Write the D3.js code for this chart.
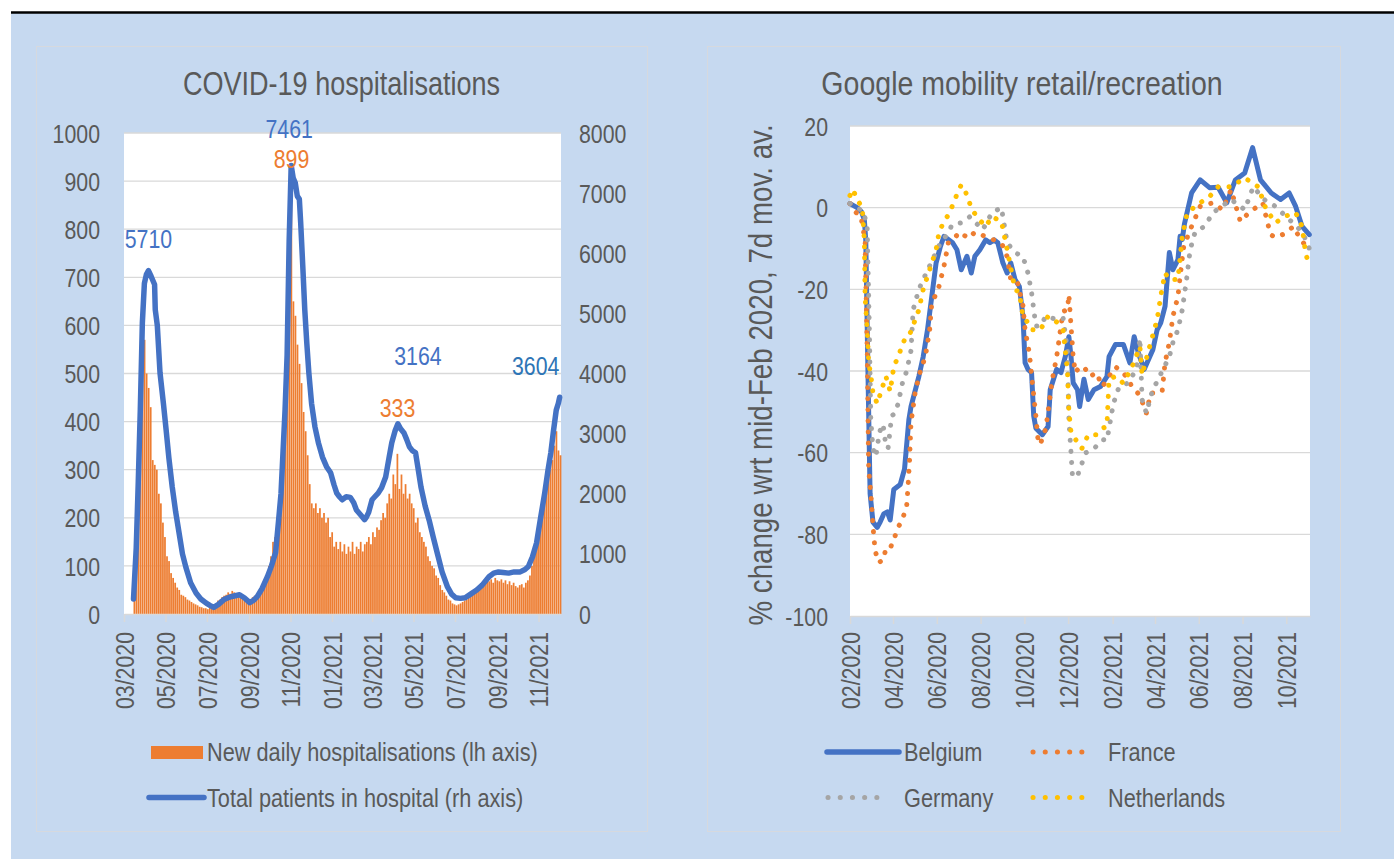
<!DOCTYPE html>
<html><head><meta charset="utf-8">
<script src="https://cdn.jsdelivr.net/npm/d3@7"></script>
<style>
html,body{margin:0;padding:0;background:#fff;}
svg{display:block;}
text{font-family:"Liberation Sans",Arial,sans-serif;fill:#595959;}
</style></head><body>
<svg id="chart" width="1394" height="859"></svg>
<script>
// ---------------- DATA ----------------
// Left chart: COVID-19 hospitalisations (Belgium)
const leftTitle = "COVID-19 hospitalisations";
const barStartDate = "2020-03-15";
const barStepDays = 3;
const newDaily = [
  90,220,330,430,520,570,500,470,430,320,
  310,300,250,230,190,160,120,110,85,75,
  65,55,50,40,38,35,30,28,25,22,
  20,18,15,14,12,12,10,13,15,20,
  22,28,30,35,38,40,45,42,48,45,
  40,42,38,32,28,25,25,30,35,38,
  40,45,50,58,65,80,100,120,150,160,
  200,230,260,350,480,620,760,899,650,620,
  560,520,480,420,380,330,270,230,220,230,
  210,220,200,210,190,200,160,170,140,150,
  135,150,130,145,125,140,130,150,125,140,
  135,150,130,145,150,160,145,170,160,180,
  175,195,210,200,230,250,240,290,270,333,
  260,290,250,270,240,250,230,220,190,200,
  170,160,150,140,120,110,100,95,80,75,
  60,50,45,38,30,28,22,20,18,20,
  22,25,28,30,35,38,42,45,50,55,
  58,62,65,70,68,72,65,75,70,68,
  72,65,70,62,68,60,65,58,55,60,
  62,55,65,70,80,100,120,140,170,190,
  210,240,260,290,300,320,350,380,340,330
];
const hospDates = [
  "2020-03-15","2020-03-19","2020-03-22","2020-03-25","2020-03-28","2020-03-31","2020-04-03","2020-04-06",
  "2020-04-09","2020-04-12","2020-04-15","2020-04-16","2020-04-19","2020-04-23","2020-04-28","2020-05-02",
  "2020-05-06","2020-05-11","2020-05-16","2020-05-22","2020-05-26","2020-05-31","2020-06-07","2020-06-15",
  "2020-06-22","2020-06-30","2020-07-06","2020-07-11","2020-07-18","2020-07-26","2020-08-03","2020-08-10",
  "2020-08-18","2020-08-25","2020-09-02","2020-09-08","2020-09-13","2020-09-20","2020-09-28","2020-10-04",
  "2020-10-10","2020-10-14","2020-10-18","2020-10-21","2020-10-24","2020-10-27","2020-10-30","2020-11-02",
  "2020-11-05","2020-11-08","2020-11-11","2020-11-14","2020-11-16","2020-11-19","2020-11-22","2020-11-25",
  "2020-11-28","2020-12-02","2020-12-07","2020-12-12","2020-12-18","2020-12-24","2020-12-30","2021-01-04",
  "2021-01-08","2021-01-12","2021-01-16","2021-01-22","2021-01-28","2021-02-02","2021-02-06","2021-02-12",
  "2021-02-18","2021-02-21","2021-02-24","2021-03-01","2021-03-05","2021-03-10","2021-03-15","2021-03-21",
  "2021-03-26","2021-03-30","2021-04-04","2021-04-08","2021-04-12","2021-04-17","2021-04-21","2021-04-25",
  "2021-04-29","2021-05-04","2021-05-08","2021-05-12","2021-05-18","2021-05-24","2021-05-30","2021-06-05",
  "2021-06-12","2021-06-20","2021-06-26","2021-07-02","2021-07-09","2021-07-16","2021-07-24","2021-08-02",
  "2021-08-10","2021-08-20","2021-08-27","2021-09-03","2021-09-10","2021-09-18","2021-09-26","2021-10-05",
  "2021-10-12","2021-10-17","2021-10-23","2021-10-29","2021-11-04","2021-11-10","2021-11-15","2021-11-19",
  "2021-11-23","2021-11-27","2021-11-30","2021-12-02"
];
const hospTotal = [
  250,1100,2200,3400,4840,5500,5650,5710,
  5640,5560,5480,5060,4800,4010,3500,3060,
  2600,2110,1700,1280,1000,780,520,350,
  250,180,140,110,160,240,280,300,
  320,270,190,230,290,420,620,800,
  1020,1500,2000,2700,3400,4300,6200,7461,
  7250,7170,6950,6900,6500,5800,5060,4500,
  4010,3500,3110,2850,2610,2450,2350,2150,
  2010,1950,1900,1950,1940,1850,1730,1650,
  1570,1620,1690,1900,1950,2010,2100,2280,
  2600,2850,3050,3164,3080,3010,2900,2780,
  2720,2680,2400,2110,1800,1560,1280,1010,
  700,450,330,270,260,270,330,400,
  480,620,680,700,690,680,700,700,
  740,790,950,1180,1600,2010,2400,2680,
  3050,3390,3500,3604
];
const leftYTicks = [0,100,200,300,400,500,600,700,800,900,1000];
const rightYTicks = [0,1000,2000,3000,4000,5000,6000,7000,8000];
const leftXTicks = ["2020-03-01","2020-05-01","2020-07-01","2020-09-01","2020-11-01","2021-01-01",
  "2021-03-01","2021-05-01","2021-07-01","2021-09-01","2021-11-01"];
const leftLegend = ["New daily hospitalisations (lh axis)","Total patients in hospital (rh axis)"];
// data labels
const lineLabelDates = ["2020-04-06","2020-11-02","2021-04-08","2021-12-02"];
const lineLabelValues = [5710,7461,3164,3604];
const barLabelDates = ["2020-11-01","2021-04-06"];
const barLabelValues = [899,333];

// Right chart: Google mobility retail/recreation
const rightTitle = "Google mobility retail/recreation";
const rightYTitle = "% change wrt mid-Feb 2020, 7d mov. av.";
const mobYTicks = [-100,-80,-60,-40,-20,0,20];
const mobXTicks = ["2020-02-15","2020-04-15","2020-06-15","2020-08-15","2020-10-15","2020-12-15",
  "2021-02-15","2021-04-15","2021-06-15","2021-08-15","2021-10-15"];
const countries = ["Belgium","France","Germany","Netherlands"];

const belgiumDates = ["2020-02-15","2020-02-25","2020-03-02","2020-03-06","2020-03-08","2020-03-11","2020-03-14","2020-03-18",
  "2020-03-24","2020-03-28","2020-04-02","2020-04-07","2020-04-11","2020-04-16","2020-04-25","2020-05-01","2020-05-07",
  "2020-05-10","2020-05-21","2020-05-27","2020-06-02","2020-06-08","2020-06-14","2020-06-20","2020-06-25","2020-07-07",
  "2020-07-13","2020-07-19","2020-07-27","2020-08-02","2020-08-07","2020-08-14","2020-08-22","2020-08-28","2020-09-03",
  "2020-09-08","2020-09-15","2020-09-21","2020-09-26","2020-10-02","2020-10-08","2020-10-13","2020-10-16","2020-10-20",
  "2020-10-25","2020-10-28","2020-10-31","2020-11-09","2020-11-17","2020-11-20","2020-11-29","2020-12-05","2020-12-11",
  "2020-12-16","2020-12-19","2020-12-22","2020-12-28","2020-12-31","2021-01-06","2021-01-12","2021-01-20","2021-01-29",
  "2021-02-07","2021-02-10","2021-02-19","2021-03-02","2021-03-08","2021-03-11","2021-03-17","2021-03-23","2021-03-31",
  "2021-04-06","2021-04-12","2021-04-18","2021-04-23","2021-04-29","2021-05-05","2021-05-10","2021-05-17","2021-05-20",
  "2021-05-23","2021-05-26","2021-06-05","2021-06-17","2021-06-30","2021-07-12","2021-07-24","2021-08-05","2021-08-18",
  "2021-08-29","2021-09-09","2021-09-24","2021-10-07","2021-10-19","2021-10-28","2021-11-06","2021-11-16"];
const belgiumValues = [1,0,-1,-3,-8,-40,-70,-77,
  -78.3,-77,-75,-74.5,-76.5,-69,-67.8,-64,-52,
  -48.7,-41.3,-36.5,-29.9,-21.7,-13.5,-9.5,-7,-8.6,
  -10.3,-15.2,-11.9,-16,-11.9,-10.3,-7.9,-8.6,-7.9,
  -8.6,-13.5,-16,-13.5,-17.6,-19.3,-26.6,-38,-39.6,
  -40.4,-51,-54,-55.6,-53.6,-44.6,-39.6,-40.4,-36.5,
  -31.6,-36.5,-42.9,-44.6,-48.7,-42,-47,-44.6,-43.8,
  -41.4,-36.5,-33.5,-33.5,-36.5,-38,-31.6,-35.7,-39.6,
  -37.2,-34.8,-29.9,-28.2,-24.2,-11,-15.2,-12.7,-7,
  -7.8,-4,3.6,6.8,4.9,5,1.2,6.8,8.5,
  14.7,6.8,3.6,2,3.6,0.3,-4.6,-6.6];

const franceDates = ["2020-02-15","2020-02-22","2020-03-01","2020-03-07","2020-03-10","2020-03-12","2020-03-15","2020-03-18",
  "2020-03-21","2020-03-26","2020-04-02","2020-04-05","2020-04-12","2020-04-16","2020-04-22","2020-04-28","2020-05-04",
  "2020-05-06","2020-05-08","2020-05-10","2020-05-16","2020-05-23","2020-05-30","2020-06-05","2020-06-08","2020-06-17",
  "2020-06-25","2020-07-01","2020-07-07","2020-07-17","2020-07-29","2020-08-07","2020-08-21","2020-09-04","2020-09-14",
  "2020-09-21","2020-09-26","2020-10-05","2020-10-13","2020-10-16","2020-10-22","2020-10-25","2020-10-28","2020-10-31",
  "2020-11-03","2020-11-06","2020-11-14","2020-11-23","2020-11-29","2020-12-05","2020-12-08","2020-12-14","2020-12-16",
  "2020-12-19","2020-12-22","2020-12-25","2020-12-31","2021-01-06","2021-01-15","2021-01-23","2021-02-01","2021-02-10",
  "2021-02-19","2021-03-02","2021-03-14","2021-03-25","2021-04-03","2021-04-09","2021-04-18","2021-04-25","2021-04-29",
  "2021-05-05","2021-05-10","2021-05-17","2021-05-20","2021-05-25","2021-06-05","2021-06-17","2021-07-05","2021-07-18",
  "2021-07-30","2021-08-12","2021-08-24","2021-09-12","2021-09-23","2021-09-30","2021-10-11","2021-10-25","2021-11-04",
  "2021-11-15"];
const franceValues = [1,-1,-2,-8,-35,-64,-70,-78,
  -84,-86.9,-86.2,-83.2,-83,-81.3,-78.3,-76.4,-73,
  -68,-61.7,-52.7,-45,-40,-36.5,-29.9,-23.3,-20,
  -14.3,-8.6,-7.9,-6,-7.5,-6,-7,-8,-9,
  -12,-17.6,-18,-24,-30,-35.7,-41,-46,-51,
  -57,-58,-54,-42,-36.5,-29,-25.4,-25,-21.3,
  -29,-36.5,-40.4,-39,-39,-41.3,-40.4,-43.8,-41.3,
  -39,-40.4,-43.8,-46,-50.3,-45.4,-45.4,-45,-38,
  -33,-26.6,-21.7,-16.9,-9.5,-4.6,0.3,1.2,-0.5,
  4.4,-3.4,-1.2,1.2,-6.6,-7.3,-6.5,-4.6,-7.9,
  -10];

const germanyDates = ["2020-02-15","2020-02-25","2020-03-05","2020-03-10","2020-03-13","2020-03-15","2020-03-18","2020-03-22",
  "2020-03-27","2020-04-01","2020-04-04","2020-04-08","2020-04-13","2020-04-18","2020-04-22","2020-04-28","2020-05-04",
  "2020-05-10","2020-05-13","2020-05-21","2020-05-27","2020-06-11","2020-06-20","2020-07-01","2020-07-06","2020-07-19",
  "2020-07-31","2020-08-18","2020-08-31","2020-09-13","2020-09-21","2020-10-02","2020-10-13","2020-10-20","2020-10-25",
  "2020-10-31","2020-11-06","2020-11-14","2020-11-29","2020-12-08","2020-12-14","2020-12-16","2020-12-19","2020-12-21",
  "2020-12-28","2020-12-31","2021-01-09","2021-01-20","2021-02-01","2021-02-07","2021-02-12","2021-02-16","2021-02-24",
  "2021-03-08","2021-03-20","2021-03-25","2021-03-28","2021-04-03","2021-04-11","2021-04-24","2021-05-05","2021-05-10",
  "2021-05-17","2021-05-23","2021-05-29","2021-06-03","2021-06-10","2021-06-23","2021-07-05","2021-07-30","2021-08-18",
  "2021-08-30","2021-09-14","2021-09-30","2021-10-19","2021-10-30","2021-11-09","2021-11-16"];
const germanyValues = [1,0,-1,-5,-30,-52,-59,-61,
  -55,-53,-57,-59,-51,-50.3,-48,-43,-40,
  -35,-25,-20,-17.6,-12,-8.6,-6.2,-4.2,-3.7,
  -2.2,-5.4,-1.2,0,-8.6,-11,-12,-16,-20.8,
  -29,-29,-26.6,-27.4,-27,-35,-52,-60,-65.8,
  -65.8,-64,-60,-59,-56.8,-57,-52,-48,-43.8,
  -43,-39.6,-32,-47,-50.3,-45,-40.4,-36.5,-33,
  -29.9,-25,-17.6,-10.3,-5.9,-4.6,-1.2,2,-0.5,
  5.1,2,0.3,-2.9,-4.6,-7,-10];

const netherlandsDates = ["2020-02-15","2020-02-19","2020-02-25","2020-03-03","2020-03-06","2020-03-07","2020-03-10","2020-03-12",
  "2020-03-15","2020-03-18","2020-03-24","2020-03-30","2020-04-05","2020-04-11","2020-04-16","2020-04-22","2020-05-01",
  "2020-05-07","2020-05-16","2020-05-21","2020-05-27","2020-06-05","2020-06-14","2020-06-18","2020-06-24","2020-07-03",
  "2020-07-10","2020-07-19","2020-07-25","2020-08-03","2020-08-13","2020-08-22","2020-08-31","2020-09-13","2020-09-21",
  "2020-10-02","2020-10-08","2020-10-13","2020-10-20","2020-10-25","2020-11-06","2020-11-17","2020-11-29","2020-12-08",
  "2020-12-14","2020-12-16","2020-12-19","2020-12-28","2021-01-03","2021-01-12","2021-01-23","2021-02-01","2021-02-07",
  "2021-02-10","2021-02-19","2021-03-02","2021-03-14","2021-03-25","2021-03-28","2021-04-06","2021-04-18","2021-04-23",
  "2021-04-29","2021-05-05","2021-05-17","2021-05-23","2021-05-30","2021-06-17","2021-06-30","2021-07-12","2021-07-30",
  "2021-08-18","2021-09-06","2021-09-17","2021-09-30","2021-10-12","2021-10-28","2021-11-06","2021-11-11","2021-11-15"];
const netherlandsValues = [3,4.5,2,0,-8,-21.7,-30,-38,
  -41,-45.4,-48,-44.6,-41.3,-45,-39,-36.5,-32.3,
  -31.6,-27.4,-25,-20,-15.2,-10.3,-6.1,-3.7,-1.2,
  2,5.6,3.9,-0.5,-2.9,-4.6,-2.2,-3.4,-10.3,
  -20,-20.8,-26.6,-28.2,-29.9,-30,-26.6,-28,-30,
  -40,-50,-55,-57.5,-59,-55.6,-55.6,-54,-53.6,
  -42,-41.3,-43,-39,-34,-41,-35,-27.4,-21.7,
  -16,-17.6,-17.6,-7,-1.2,1.2,2.7,5.1,5.1,
  7.3,5.1,-0.5,-3.7,-2.2,-1.2,-4.6,-11.3,-13.5];

// ---------------- DRAWING ----------------
const parse = d3.timeParse("%Y-%m-%d");
const fmt = d3.timeFormat("%m/%Y");
const numFmt = d => String(d);
const svg = d3.select("#chart");
const TXT = "#595959", GRID = "#d9d9d9";
const C_BLUE = "#4472C4", C_ORANGE = "#ED7D31", C_GRAY = "#A5A5A5", C_YELLOW = "#FFC000";
const SX = 0.82; // horizontal condensing of the text (narrow face)

// text helper: condensed text anchored at (x,y)
function addText(x, y, str, size, opts={}) {
  const rot = opts.rotate ? ` rotate(${opts.rotate})` : "";
  const sx = opts.sx || SX;
  const t = svg.append("text")
    .attr("transform", `translate(${x},${y})${rot} scale(${sx},1)`)
    .attr("text-anchor", opts.anchor || "start")
    .style("font-size", size + "px")
    .style("fill", opts.color || TXT)
    .text(str);
  if (opts.dy) t.attr("dy", opts.dy);
  return t;
}

// page background
svg.append("rect").attr("x",0).attr("y",0).attr("width",1394).attr("height",859).attr("fill","#fff");
svg.append("rect").attr("x",11).attr("y",13).attr("width",1383).attr("height",846).attr("fill","#C6D9F0");
svg.append("line").attr("x1",11).attr("x2",1394).attr("y1",12.5).attr("y2",12.5).attr("stroke","#000").attr("stroke-width",2.5);

// panels
svg.append("rect").attr("x",36.5).attr("y",46.5).attr("width",611).attr("height",785).attr("fill","none").attr("stroke","#d6d9de").attr("stroke-width",1);
svg.append("rect").attr("x",707.5).attr("y",46.5).attr("width",633).attr("height",785).attr("fill","none").attr("stroke","#d6d9de").attr("stroke-width",1);

function styleAxisText(sel, size){ sel.style("font-size", size+"px").style("fill", TXT); }

// ===== LEFT CHART =====
const L = {x0:124, x1:561, y0:614, y1:133};
const xL = d3.scaleTime().domain([parse("2020-03-01"), parse("2021-12-04")]).range([L.x0, L.x1]);
const yL = d3.scaleLinear().domain([0,1000]).range([L.y0, L.y1]);
const yR = d3.scaleLinear().domain([0,8000]).range([L.y0, L.y1]);

addText(341.5, 95, leftTitle, 33, {anchor:"middle"});
svg.append("rect").attr("x",L.x0).attr("y",L.y1).attr("width",L.x1-L.x0).attr("height",L.y0-L.y1).attr("fill","#fff");
svg.append("g").selectAll("line").data(leftYTicks.filter(d=>d>0)).join("line")
  .attr("x1",L.x0).attr("x2",L.x1).attr("y1",d=>yL(d)).attr("y2",d=>yL(d))
  .attr("stroke",GRID).attr("stroke-width",1.3);

// bars
const barStart = parse(barStartDate);
const bars = newDaily.map((v,i)=>({d:d3.timeDay.offset(barStart, i*barStepDays), v}));
svg.append("g").selectAll("rect").data(bars).join("rect")
  .attr("x", d=>xL(d.d))
  .attr("width", d=>Math.max(0.5, xL(d3.timeDay.offset(d.d,barStepDays))-xL(d.d)-0.3))
  .attr("y", d=>yL(d.v)).attr("height", d=>L.y0-yL(d.v))
  .attr("fill", C_ORANGE);

// line
const hosp = hospDates.map((d,i)=>({d:parse(d), v:hospTotal[i]}));
svg.append("path").datum(hosp)
  .attr("d", d3.line().x(d=>xL(d.d)).y(d=>yR(d.v)))
  .attr("fill","none").attr("stroke",C_BLUE).attr("stroke-width",5.5)
  .attr("stroke-linejoin","round").attr("stroke-linecap","round");

// axes
const axL = svg.append("g").attr("transform",`translate(100,0)`)
  .call(d3.axisLeft(yL).tickValues(leftYTicks).tickFormat(numFmt).tickSize(0).tickPadding(0));
const axR = svg.append("g").attr("transform",`translate(579,0)`)
  .call(d3.axisRight(yR).tickValues(rightYTicks).tickFormat(numFmt).tickSize(0).tickPadding(0));
[axL, axR].forEach(a=>{
  a.select(".domain").remove();
  a.selectAll("text").attr("x",0).attr("dy","0.35em").attr("transform",`scale(${SX},1)`).call(styleAxisText,26);
});

const axXL = svg.append("g").attr("transform",`translate(0,${L.y0})`)
  .call(d3.axisBottom(xL).tickValues(leftXTicks.map(parse)).tickFormat(fmt).tickSize(8).tickSizeOuter(0));
axXL.select(".domain").attr("stroke",GRID).attr("stroke-width",1.5);
axXL.selectAll(".tick line").attr("stroke",GRID).attr("stroke-width",1.5);
axXL.selectAll("text").attr("transform",`rotate(-90) translate(-18,0) scale(${SX},1)`).attr("x",0).attr("y",0).attr("dy","0.35em")
  .attr("text-anchor","end").call(styleAxisText,26);

// data labels
const lineLabelStyle = [
  {dx:0, dy:-23, c:C_BLUE},
  {dx:-2, dy:-27.5, c:C_BLUE},
  {dx:20, dy:-59, c:C_BLUE},
  {dx:-24, dy:-22, c:"#2E75B6"}
];
lineLabelValues.forEach((v,i)=>{
  addText(xL(parse(lineLabelDates[i]))+lineLabelStyle[i].dx, yR(v)+lineLabelStyle[i].dy, String(v), 26,
    {anchor:"middle", color:lineLabelStyle[i].c});
});
const barLabelStyle = [{dx:1, dy:-13.5},{dx:1, dy:-37}];
barLabelValues.forEach((v,i)=>{
  addText(xL(parse(barLabelDates[i]))+barLabelStyle[i].dx, yL(v)+barLabelStyle[i].dy, String(v), 26,
    {anchor:"middle", color:C_ORANGE});
});

// legend left
svg.append("rect").attr("x",151).attr("y",746).attr("width",52).attr("height",13).attr("fill",C_ORANGE);
svg.append("line").attr("x1",149).attr("x2",204).attr("y1",797.5).attr("y2",797.5)
  .attr("stroke",C_BLUE).attr("stroke-width",5.5).attr("stroke-linecap","round");
addText(207, 752, leftLegend[0], 26.5, {dy:"0.35em"});
addText(207, 797.5, leftLegend[1], 26.5, {dy:"0.35em"});

// ===== RIGHT CHART =====
const R = {x0:850, x1:1310, y0:616, y1:126};
const xM = d3.scaleTime().domain([parse("2020-02-15"), parse("2021-11-17")]).range([R.x0, R.x1]);
const yM = d3.scaleLinear().domain([-100,20]).range([R.y0, R.y1]);

addText(1022, 95, rightTitle, 33, {anchor:"middle", sx:0.865});
svg.append("rect").attr("x",R.x0).attr("y",R.y1).attr("width",R.x1-R.x0).attr("height",R.y0-R.y1).attr("fill","#fff");
svg.append("g").selectAll("line").data(mobYTicks.filter(d=>d>-100)).join("line")
  .attr("x1",R.x0).attr("x2",R.x1).attr("y1",d=>yM(d)).attr("y2",d=>yM(d))
  .attr("stroke",GRID).attr("stroke-width",1.3);

const axM = svg.append("g").attr("transform",`translate(828,0)`)
  .call(d3.axisLeft(yM).tickValues(mobYTicks).tickFormat(numFmt).tickSize(0).tickPadding(0));
axM.select(".domain").remove();
axM.selectAll("text").attr("x",0).attr("dy","0.35em").attr("transform",`scale(${SX},1)`).call(styleAxisText,26);

const axXM = svg.append("g").attr("transform",`translate(0,${R.y0})`)
  .call(d3.axisBottom(xM).tickValues(mobXTicks.map(parse)).tickFormat(fmt).tickSize(8).tickSizeOuter(0));
axXM.select(".domain").attr("stroke",GRID).attr("stroke-width",1.5);
axXM.selectAll(".tick line").attr("stroke",GRID).attr("stroke-width",1.5);
axXM.selectAll("text").attr("transform",`rotate(-90) translate(-16,0) scale(${SX},1)`).attr("x",0).attr("y",0).attr("dy","0.35em")
  .attr("text-anchor","end").call(styleAxisText,26);

addText(760, 375, rightYTitle, 33, {anchor:"middle", rotate:-90, dy:"0.35em", sx:0.84});

const series = [
  {name:countries[0], dates:belgiumDates, vals:belgiumValues, color:C_BLUE, dotted:false},
  {name:countries[1], dates:franceDates, vals:franceValues, color:C_ORANGE, dotted:true},
  {name:countries[2], dates:germanyDates, vals:germanyValues, color:C_GRAY, dotted:true},
  {name:countries[3], dates:netherlandsDates, vals:netherlandsValues, color:C_YELLOW, dotted:true}
];
const mline = d3.line().x(d=>xM(d.d)).y(d=>yM(d.v));
series.forEach(s=>{
  const pts = s.dates.map((d,i)=>({d:parse(d), v:s.vals[i]}));
  const p = svg.append("path").datum(pts).attr("d", mline)
    .attr("fill","none").attr("stroke",s.color).attr("stroke-linejoin","round").attr("stroke-linecap","round");
  if (s.dotted) p.attr("stroke-width",5).attr("stroke-dasharray","0.1 11");
  else p.attr("stroke-width",5);
});

// legend right
const legPos = [[827,899,752,904],[1033,1094,752,1108],[828,889,797.5,904],[1033,1094,797.5,1108]];
series.forEach((s,i)=>{
  const [xa,xb,yy,tx] = legPos[i];
  const l = svg.append("line").attr("x1",xa).attr("x2",xb).attr("y1",yy).attr("y2",yy)
    .attr("stroke",s.color).attr("stroke-linecap","round");
  if (s.dotted) l.attr("stroke-width",5).attr("stroke-dasharray","0.1 12.1");
  else l.attr("stroke-width",5.5);
  addText(tx, yy, s.name, 26.5, {dy:"0.35em"});
});
</script></body></html>
